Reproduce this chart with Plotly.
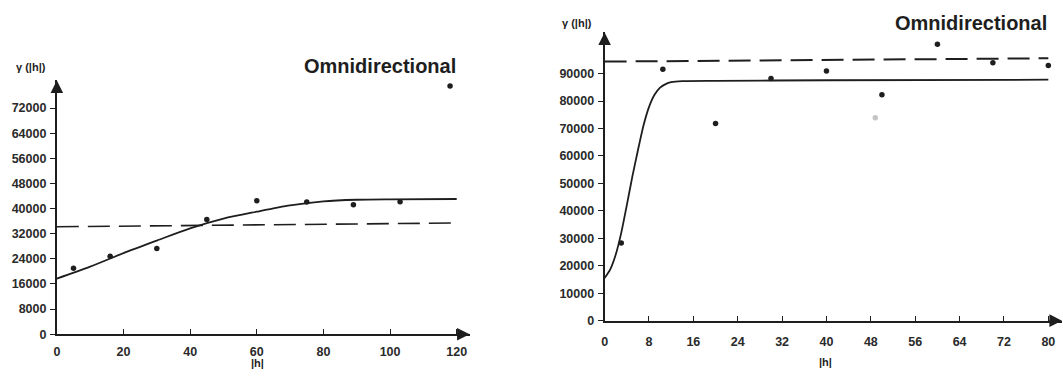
import plotly.graph_objects as go

W, H = 1063, 377

# ---- Left chart data ----
L_pts_x = [5, 16, 30, 45, 60, 75, 89, 103, 118]
L_pts_y = [21000, 24800, 27300, 36500, 42500, 42100, 41200, 42200, 79000]
L_curve_x = [0, 10, 20, 30, 40, 50, 60, 70, 80, 90, 100, 120]
L_curve_y = [17700, 21500, 25800, 29800, 33700, 36800, 39000, 41000, 42300, 42800, 42950, 43050]
L_dash_x = [0, 120]
L_dash_y = [34200, 35400]
L_xticks = [0, 20, 40, 60, 80, 100, 120]
L_yticks = [0, 8000, 16000, 24000, 32000, 40000, 48000, 56000, 64000, 72000]

# ---- Right chart data ----
R_pts_x = [3, 10.5, 20, 30, 40, 50, 60, 70, 80]
R_pts_y = [28300, 91600, 71800, 88200, 91000, 82300, 100700, 94000, 93000]
R_faint_x = [48.8]
R_faint_y = [73900]
R_curve_x = [0, 1, 2, 3, 4, 5, 6, 7, 8, 9, 10, 11, 12, 14, 20, 40, 80]
R_curve_y = [15500, 18600, 24000, 32000, 42000, 52500, 62000, 71000, 77800, 82300, 84900, 86200, 86900, 87300, 87400, 87600, 87800]
R_dash_x = [0, 80]
R_dash_y = [94400, 95600]
R_xticks = [0, 8, 16, 24, 32, 40, 48, 56, 64, 72, 80]
R_yticks = [0, 10000, 20000, 30000, 40000, 50000, 60000, 70000, 80000, 90000]

INK = "#1e1e1e"
FONT = "Arial"

fig = go.Figure()

def px(v):
    return v / W

def py(v):
    return 1 - v / H

# left traces
fig.add_trace(go.Scatter(x=L_dash_x, y=L_dash_y, mode="lines", xaxis="x", yaxis="y",
                         line=dict(color=INK, width=1.6, dash="22px,9px"), hoverinfo="skip"))
fig.add_trace(go.Scatter(x=L_curve_x, y=L_curve_y, mode="lines", xaxis="x", yaxis="y",
                         line=dict(color=INK, width=1.8, shape="spline", smoothing=0.8)))
fig.add_trace(go.Scatter(x=L_pts_x, y=L_pts_y, mode="markers", xaxis="x", yaxis="y",
                         marker=dict(color=INK, size=5.5), cliponaxis=False))

# right traces
fig.add_trace(go.Scatter(x=R_dash_x, y=R_dash_y, mode="lines", xaxis="x2", yaxis="y2",
                         line=dict(color=INK, width=2, dash="22px,9px"), hoverinfo="skip"))
fig.add_trace(go.Scatter(x=R_curve_x, y=R_curve_y, mode="lines", xaxis="x2", yaxis="y2",
                         line=dict(color=INK, width=1.8, shape="spline", smoothing=0.5)))
fig.add_trace(go.Scatter(x=R_pts_x, y=R_pts_y, mode="markers", xaxis="x2", yaxis="y2",
                         marker=dict(color=INK, size=5.5), cliponaxis=False))
fig.add_trace(go.Scatter(x=R_faint_x, y=R_faint_y, mode="markers", xaxis="x2", yaxis="y2",
                         marker=dict(color="#c4c4c4", size=5.5), cliponaxis=False))

tickfont = dict(family=FONT, size=12.5, color="#2a2a2a", weight="bold")

L_x0, L_x1, L_xend = 54, 455, 468
L_y0, L_ytop = 340.5, 82
L_ystep = 25.6 / 8000
R_x0, R_x1, R_xend = 603.3, 1048.3, 1062
R_y0, R_ytop = 326.7, 33
R_ystep = 27.96 / 10000

axis_common = dict(showgrid=False, zeroline=False, showline=True, linecolor=INK, linewidth=1.8,
                   tickcolor=INK, tickwidth=1.3, ticklen=5, tickfont=tickfont, tickformat="d")

fig.update_layout(
    width=W, height=H,
    margin=dict(l=0, r=0, t=0, b=0),
    paper_bgcolor="white", plot_bgcolor="white",
    showlegend=False,
    xaxis=dict(domain=[px(L_x0), px(L_xend)], range=[0, 120 * (L_xend - L_x0) / (L_x1 - L_x0)],
               anchor="y", tickvals=L_xticks, ticks="inside", ticklabelstandoff=5, **axis_common),
    yaxis=dict(domain=[py(L_y0), py(L_ytop)], range=[0, (L_y0 - L_ytop) / L_ystep],
               anchor="x", tickvals=L_yticks, ticks="outside", ticklabelstandoff=1, **axis_common),
    xaxis2=dict(domain=[px(R_x0), px(R_xend)], range=[0, 80 * (R_xend - R_x0) / (R_x1 - R_x0)],
                anchor="y2", tickvals=R_xticks, ticks="inside", ticklabelstandoff=8, **axis_common),
    yaxis2=dict(domain=[py(R_y0), py(R_ytop)], range=[0, (R_y0 - R_ytop) / R_ystep],
                anchor="x2", tickvals=R_yticks, ticks="outside", ticklabelstandoff=1, **axis_common),
)

ann = []
# axis arrowheads
for xr, yr in (("x domain", "y domain"), ("x2 domain", "y2 domain")):
    ann.append(dict(x=1, y=0, xref=xr, yref=yr, ax=-14, ay=0, showarrow=True, arrowhead=2,
                    arrowsize=1.4, arrowwidth=1.8, arrowcolor=INK, text=""))
    ann.append(dict(x=0, y=1, xref=xr, yref=yr, ax=0, ay=14, showarrow=True, arrowhead=2,
                    arrowsize=1.4, arrowwidth=1.8, arrowcolor=INK, text=""))

def txt(x, y, s, size, anchor="center", yanchor="middle", weight="bold", pad=1):
    ann.append(dict(x=px(x), y=py(y), xref="paper", yref="paper", text=s, showarrow=False,
                    xanchor=anchor, yanchor=yanchor, borderpad=pad,
                    font=dict(family=FONT, size=size, color=INK, weight=weight)))

txt(456, 67, "Omnidirectional", 20, "right")
txt(1049, 23, "Omnidirectional", 20, "right")
txt(28, 68, "γ (|h|)", 11)
txt(576, 23, "γ (|h|)", 11)
txt(255, 377, "|h|", 11, yanchor="bottom", pad=0)
txt(825, 369, "|h|", 11, pad=0)

fig.update_layout(annotations=ann)
fig.write_html("out.html")
